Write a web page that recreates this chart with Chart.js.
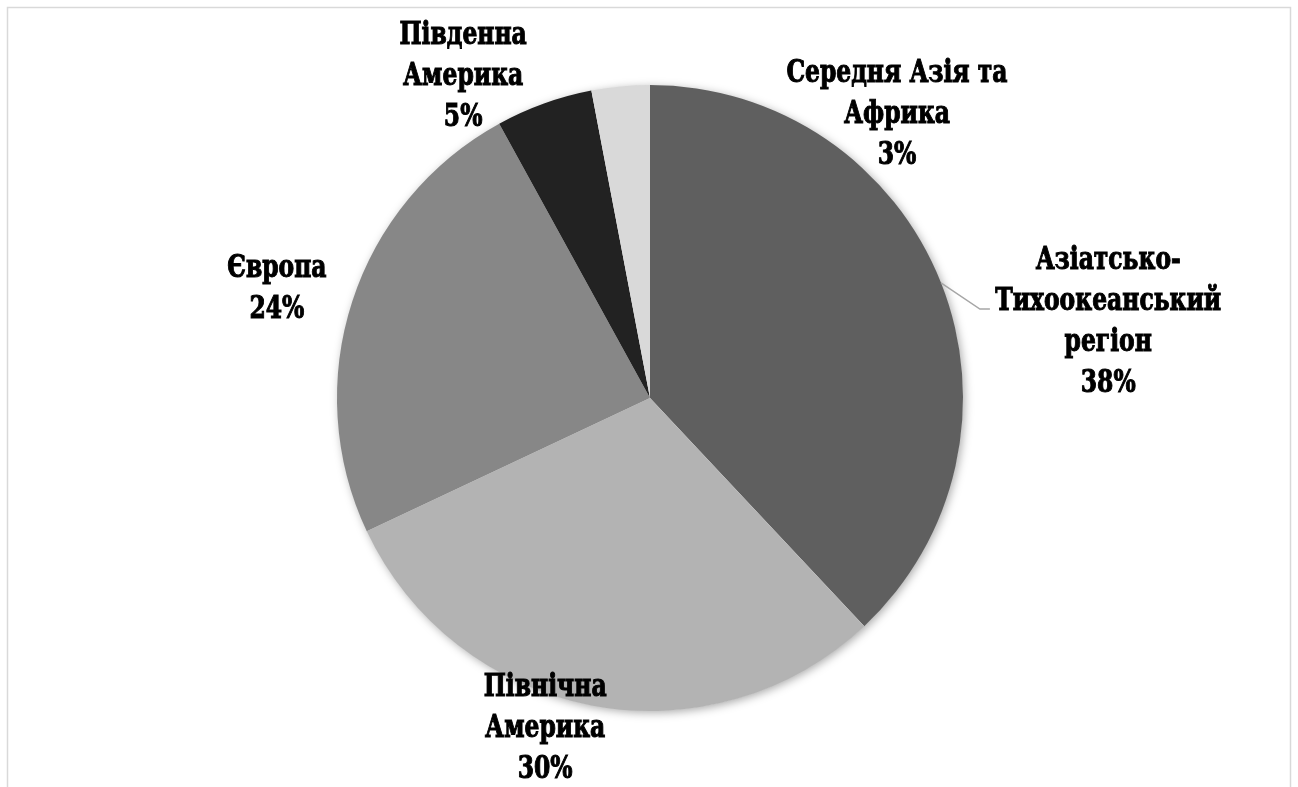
<!DOCTYPE html>
<html>
<head>
<meta charset="utf-8">
<script src="https://cdn.jsdelivr.net/npm/chart.js@4/dist/chart.umd.min.js"></script>
<style>
  html, body { margin: 0; padding: 0; background: #fff; }
  #wrap { position: relative; width: 1298px; height: 787px; }
</style>
</head>
<body>
<div id="wrap"><canvas id="regions-chart"></canvas></div>
<script>
// Регіони та їх частки, %
const regionNames = [
    ['Азіатсько-', 'Тихоокеанський', 'регіон'],
    ['Північна', 'Америка'],
    ['Європа'],
    ['Південна', 'Америка'],
    ['Середня Азія та', 'Африка']
];
const regionShares = [38, 30, 24, 5, 3];
const sliceColors = ['#5f5f5f', '#b3b3b3', '#878787', '#222222', '#d9d9d9'];

// Положення підписів відносно центру, у частках радіуса
const labelOffsets = [
    [1.464, -0.241],
    [-0.335, 1.058],
    [-1.192, -0.347],
    [-0.597, -1.027],
    [0.789, -0.905]
];
// Лінія-виноска для першого сегмента (злам і кінець, у частках радіуса)
const leaderLines = [
    [[1.054, -0.284], [1.086, -0.284]],
    null, null, null, null
];

const labelFont = 'bold 31px "DejaVu Serif", serif';
const lineHeight = 41;
const textSqueeze = 0.84;

// Рамка області діаграми
const framePlugin = {
    id: 'frame',
    beforeDraw(chart) {
        const ctx = chart.ctx;
        ctx.save();
        ctx.strokeStyle = '#d9d9d9';
        ctx.lineWidth = 1.5;
        ctx.beginPath();
        ctx.moveTo(7.5, 800);
        ctx.lineTo(7.5, 7.5);
        ctx.lineTo(1290.5, 7.5);
        ctx.lineTo(1290.5, 800);
        ctx.stroke();
        ctx.restore();
    }
};

// М'яка тінь під кругом
const shadowPlugin = {
    id: 'pieShadow',
    beforeDatasetsDraw(chart) {
        const arc = chart.getDatasetMeta(0).data[0];
        if (!arc) return;
        const ctx = chart.ctx;
        ctx.save();
        ctx.shadowColor = 'rgba(0, 0, 0, 0.35)';
        ctx.shadowBlur = 10;
        ctx.shadowOffsetX = 2;
        ctx.shadowOffsetY = 2;
        ctx.fillStyle = '#ffffff';
        ctx.beginPath();
        ctx.arc(arc.x, arc.y, arc.outerRadius - 0.5, 0, Math.PI * 2);
        ctx.fill();
        ctx.restore();
    }
};

// Підписи: назва регіону та відсоток
const sliceLabelsPlugin = {
    id: 'sliceLabels',
    afterDatasetsDraw(chart) {
        const meta = chart.getDatasetMeta(0);
        const ctx = chart.ctx;
        ctx.save();
        ctx.font = labelFont;
        ctx.fontStretch = 'condensed';
        ctx.fillStyle = '#000000';
        ctx.textAlign = 'center';
        ctx.textBaseline = 'middle';
        meta.data.forEach((arc, i) => {
            const r = arc.outerRadius;
            const cx = arc.x;
            const cy = arc.y;

            const leader = leaderLines[i];
            if (leader) {
                const mid = (arc.startAngle + arc.endAngle) / 2;
                ctx.strokeStyle = '#a6a6a6';
                ctx.lineWidth = 1.5;
                ctx.beginPath();
                ctx.moveTo(cx + Math.cos(mid) * r, cy + Math.sin(mid) * r);
                leader.forEach(p => ctx.lineTo(cx + p[0] * r, cy + p[1] * r));
                ctx.stroke();
            }

            const lines = regionNames[i].concat([regionShares[i] + '%']);
            const x = cx + labelOffsets[i][0] * r;
            const y0 = cy + labelOffsets[i][1] * r - (lines.length - 1) * lineHeight / 2;
            ctx.strokeStyle = '#000000';
            ctx.lineWidth = 1;
            lines.forEach((text, k) => {
                ctx.save();
                ctx.translate(x, y0 + k * lineHeight);
                ctx.scale(textSqueeze, 1);
                ctx.fillText(text, 0, 0);
                ctx.strokeText(text, 0, 0);
                ctx.restore();
            });
        });
        ctx.restore();
    }
};

const ctx = document.getElementById('regions-chart').getContext('2d');
const regionsChart = new Chart(ctx, {
    type: 'pie',
    data: {
        labels: regionNames.map(n => n.join(' ')),
        datasets: [{
            data: regionShares,
            backgroundColor: sliceColors,
            borderWidth: 0
        }]
    },
    options: {
        responsive: true,
        maintainAspectRatio: false,
        animation: false,
        layout: {
            padding: { top: 85, bottom: 76, left: 337, right: 335 }
        },
        plugins: {
            legend: { display: false },
            tooltip: { enabled: false }
        }
    },
    plugins: [framePlugin, shadowPlugin, sliceLabelsPlugin]
});
</script>
</body>
</html>
